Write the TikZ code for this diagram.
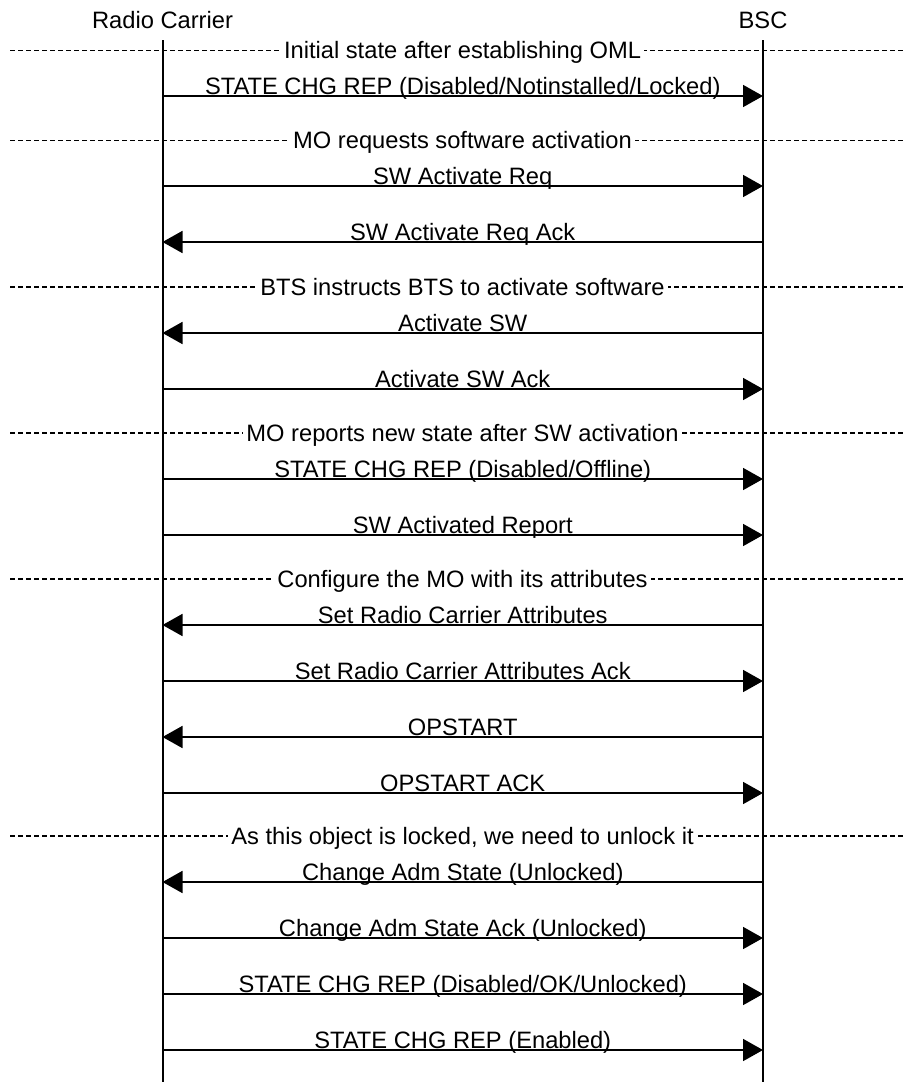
\documentclass[tikz,border=0pt]{standalone}
\usepackage{fontspec}
\setmainfont{Liberation Sans}
\usetikzlibrary{arrows.meta}
\begin{document}
\begin{tikzpicture}[x=1pt,y=-1pt,
  font=\fontsize{23.7}{28}\selectfont,
  life/.style={line width=2pt},
  msg/.style={line width=1.7pt,-{Triangle[length=20pt,width=22pt]}},
  lbl/.style={midway,anchor=base,inner sep=0pt,yshift=1.5pt},
  sep/.style={line width=1.3pt,dash pattern=on 4.5pt off 3.5pt},
  seplbl/.style={anchor=base,fill=white,inner xsep=3pt,inner ysep=1pt},
  title/.style={anchor=base,inner sep=0pt}]
\useasboundingbox (0,0) rectangle (904,1082);
% participants
\node[title] (rc) at (162.5,28.5) {Radio Carrier};
\node[title] (bsc) at (763,28.5) {BSC};
\coordinate (rcTop) at (162.5,40);
\coordinate (rcBot) at (162.5,1082);
\coordinate (bscTop) at (763,40);
\coordinate (bscBot) at (763,1082);
\draw[life] (rcTop) -- (rcBot);
\draw[life] (bscTop) -- (bscBot);
% separators
\coordinate (d1l) at (10,50.5);  \coordinate (d1r) at (904,50.5);
\coordinate (d2l) at (10,140.5); \coordinate (d2r) at (904,140.5);
\coordinate (d3l) at (10,287);   \coordinate (d3r) at (904,287);
\coordinate (d4l) at (10,433);   \coordinate (d4r) at (904,433);
\coordinate (d5l) at (10,579);   \coordinate (d5r) at (904,579);
\coordinate (d6l) at (10,836);   \coordinate (d6r) at (904,836);
\draw[sep] (d1l) -- (d1r);
\draw[sep] (d2l) -- (d2r);
\draw[sep] (d3l) -- (d3r);
\draw[sep] (d4l) -- (d4r);
\draw[sep] (d5l) -- (d5r);
\draw[sep] (d6l) -- (d6r);
\node[seplbl] (s1) at (462.5,58.5) {Initial state after establishing OML};
\node[seplbl] (s2) at (462.5,148.5) {MO requests software activation};
\node[seplbl] (s3) at (462.5,295) {BTS instructs BTS to activate software};
\node[seplbl] (s4) at (462.5,441) {MO reports new state after SW activation};
\node[seplbl] (s5) at (462.5,587) {Configure the MO with its attributes};
\node[seplbl] (s6) at (462.5,844) {As this object is locked, we need to unlock it};
% messages
\coordinate (m1l) at (162.5,96);   \coordinate (m1r) at (763,96);
\coordinate (m2l) at (162.5,186);  \coordinate (m2r) at (763,186);
\coordinate (m3l) at (162.5,242);  \coordinate (m3r) at (763,242);
\coordinate (m4l) at (162.5,333);  \coordinate (m4r) at (763,333);
\coordinate (m5l) at (162.5,389);  \coordinate (m5r) at (763,389);
\coordinate (m6l) at (162.5,479);  \coordinate (m6r) at (763,479);
\coordinate (m7l) at (162.5,535);  \coordinate (m7r) at (763,535);
\coordinate (m8l) at (162.5,625);  \coordinate (m8r) at (763,625);
\coordinate (m9l) at (162.5,681);  \coordinate (m9r) at (763,681);
\coordinate (m10l) at (162.5,737); \coordinate (m10r) at (763,737);
\coordinate (m11l) at (162.5,793); \coordinate (m11r) at (763,793);
\coordinate (m12l) at (162.5,882); \coordinate (m12r) at (763,882);
\coordinate (m13l) at (162.5,938); \coordinate (m13r) at (763,938);
\coordinate (m14l) at (162.5,994); \coordinate (m14r) at (763,994);
\coordinate (m15l) at (162.5,1050);\coordinate (m15r) at (763,1050);
\draw[msg] (m1l) -- node[lbl] (t1) {STATE CHG REP (Disabled/Notinstalled/Locked)} (m1r);
\draw[msg] (m2l) -- node[lbl] (t2) {SW Activate Req} (m2r);
\draw[msg] (m3r) -- node[lbl] (t3) {SW Activate Req Ack} (m3l);
\draw[msg] (m4r) -- node[lbl] (t4) {Activate SW} (m4l);
\draw[msg] (m5l) -- node[lbl] (t5) {Activate SW Ack} (m5r);
\draw[msg] (m6l) -- node[lbl] (t6) {STATE CHG REP (Disabled/Offline)} (m6r);
\draw[msg] (m7l) -- node[lbl] (t7) {SW Activated Report} (m7r);
\draw[msg] (m8r) -- node[lbl] (t8) {Set Radio Carrier Attributes} (m8l);
\draw[msg] (m9l) -- node[lbl] (t9) {Set Radio Carrier Attributes Ack} (m9r);
\draw[msg] (m10r) -- node[lbl] (t10) {OPSTART} (m10l);
\draw[msg] (m11l) -- node[lbl] (t11) {OPSTART ACK} (m11r);
\draw[msg] (m12r) -- node[lbl] (t12) {Change Adm State (Unlocked)} (m12l);
\draw[msg] (m13l) -- node[lbl] (t13) {Change Adm State Ack (Unlocked)} (m13r);
\draw[msg] (m14l) -- node[lbl] (t14) {STATE CHG REP (Disabled/OK/Unlocked)} (m14r);
\draw[msg] (m15l) -- node[lbl] (t15) {STATE CHG REP (Enabled)} (m15r);
\end{tikzpicture}
\end{document}
